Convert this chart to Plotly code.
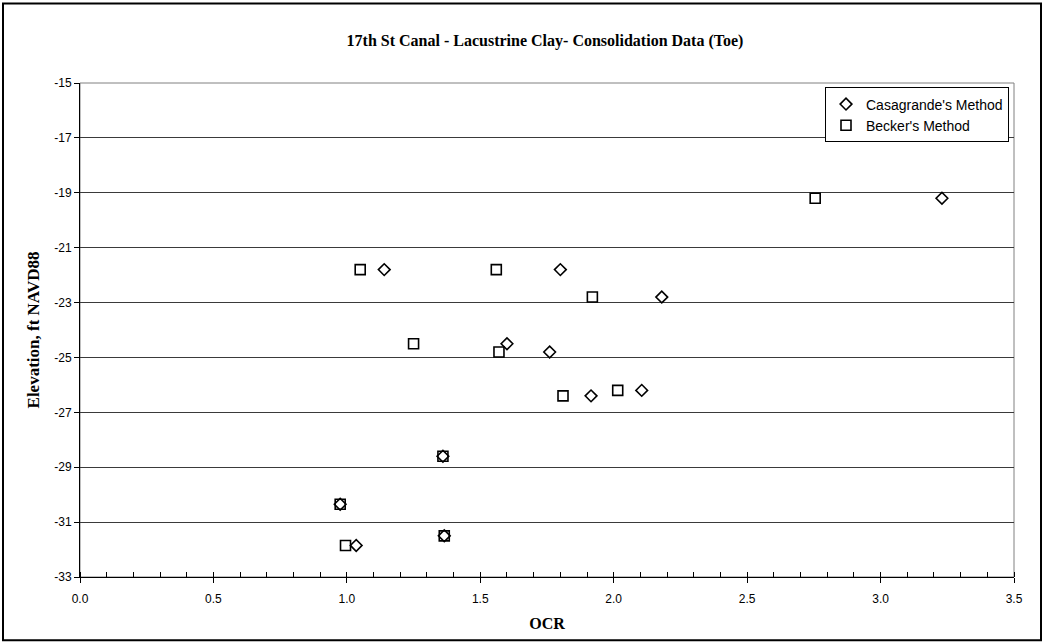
import plotly.graph_objects as go

# Data
casagrande_ocr = [1.14, 1.80, 2.18, 1.60, 1.76, 1.915, 2.105, 3.23, 1.36, 0.975, 1.365, 1.035]
casagrande_elev = [-21.8, -21.8, -22.8, -24.5, -24.8, -26.4, -26.2, -19.2, -28.6, -30.35, -31.5, -31.85]

becker_ocr = [1.05, 1.56, 1.92, 1.25, 1.57, 1.81, 2.015, 2.755, 1.36, 0.975, 1.365, 0.995]
becker_elev = [-21.8, -21.8, -22.8, -24.5, -24.8, -26.4, -26.2, -19.2, -28.6, -30.35, -31.5, -31.85]

y_ticks = [-15, -17, -19, -21, -23, -25, -27, -29, -31, -33]
x_ticks = [0.0, 0.5, 1.0, 1.5, 2.0, 2.5, 3.0, 3.5]

fig = go.Figure()
fig.add_trace(go.Scatter(
    x=casagrande_ocr, y=casagrande_elev, mode="markers", name="Casagrande's Method",
    marker=dict(symbol="diamond-open", size=9, color="black", line=dict(width=1.6, color="black")),
))
fig.add_trace(go.Scatter(
    x=becker_ocr, y=becker_elev, mode="markers", name="Becker's Method",
    marker=dict(symbol="square-open", size=10, color="black", line=dict(width=1.6, color="black")),
))

W, H = 1045, 643
L, R, T, B = 80, 1014, 82.5, 576.7
pw, ph = R - L, B - T

def px(xp):
    return (xp - L) / pw

def py(yp):
    return (B - yp) / ph

fig.update_layout(
    width=W, height=H,
    margin=dict(l=L, r=W - R, t=T, b=H - B),
    paper_bgcolor="white", plot_bgcolor="white",
    showlegend=True,
    title=dict(text="<b>17th St Canal - Lacustrine Clay- Consolidation Data (Toe)</b>",
               x=545 / W, xanchor="center", y=1 - 40 / H, yanchor="middle",
               font=dict(family="Liberation Serif", size=16, color="black")),
    font=dict(family="Liberation Sans", size=12, color="black"),
    legend=dict(x=1.0 - 5 / pw, y=py(87), xanchor="right", yanchor="top",
                bgcolor="white", bordercolor="black", borderwidth=1,
                font=dict(family="Liberation Sans", size=14, color="black"),
                itemwidth=30, tracegroupgap=0),
    xaxis=dict(
        range=[0, 3.5], tickvals=x_ticks, ticktext=[f"{v:.1f}" for v in x_ticks],
        showgrid=False, zeroline=False,
        showline=True, linecolor="black", linewidth=1,
        ticks="outside", ticklen=5, tickcolor="black", tickwidth=1,
        ticklabelstandoff=6,
        minor=dict(dtick=0.1, ticks="inside", ticklen=5, tickcolor="black", showgrid=False),
        tickfont=dict(family="Liberation Sans", size=12, color="black"),
        title=dict(text="<b>OCR</b>", font=dict(family="Liberation Serif", size=16, color="black"), standoff=12),
    ),
    yaxis=dict(
        range=[-33, -15], tickvals=y_ticks, ticktext=[str(v) for v in y_ticks],
        showgrid=True, gridcolor="#3a3a3a", gridwidth=1, zeroline=False,
        showline=True, linecolor="black", linewidth=1,
        ticks="outside", ticklen=5, tickcolor="black", tickwidth=1,
        tickfont=dict(family="Liberation Sans", size=12, color="black"),
        title=dict(text="<b>Elevation, ft NAVD88</b>", font=dict(family="Liberation Serif", size=17, color="black"), standoff=10),
    ),
    shapes=[
        dict(type="rect", xref="paper", yref="paper", x0=0, x1=1, y0=0, y1=1,
             line=dict(color="#808080", width=1), layer="below"),
        dict(type="rect", xref="paper", yref="paper",
             x0=px(3), x1=px(1041), y0=py(640), y1=py(3),
             line=dict(color="black", width=2)),
    ],
)

fig.write_html("out.html")
